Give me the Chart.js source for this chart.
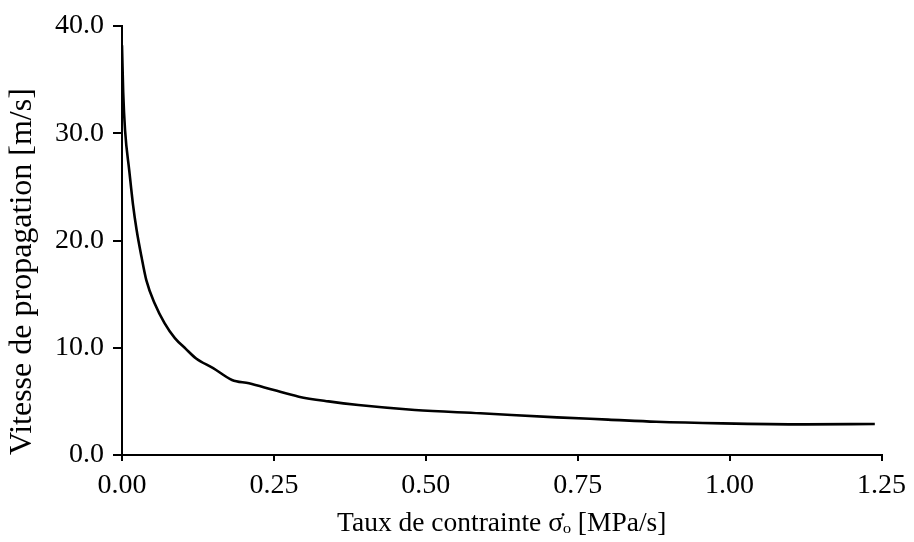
<!DOCTYPE html>
<html>
<head>
<meta charset="utf-8">
<script src="https://cdn.jsdelivr.net/npm/chart.js@4"></script>
<style>
  html, body { margin: 0; padding: 0; background: #fff; }
  #wrap { width: 914px; height: 542px; }
</style>
</head>
<body>
<div id="wrap"><canvas id="vitesseChart" width="914" height="542"></canvas></div>
<script>
// taux de contrainte (MPa/s) et vitesse de propagation (m/s)
const tauxContrainte = [0.000, 0.002, 0.005, 0.012, 0.018, 0.024, 0.032, 0.040, 0.054, 0.070, 0.087,
  0.105, 0.122, 0.150, 0.181, 0.209, 0.250, 0.291, 0.340, 0.389, 0.482, 0.590, 0.716, 0.800, 0.879, 0.988, 1.124, 1.239];
const vitesse = [38.2, 33.8, 30.3, 26.5, 23.4, 21.0, 18.5, 16.3, 14.1, 12.3, 10.9,
  9.9, 9.0, 8.1, 7.0, 6.69, 6.05, 5.44, 5.0, 4.66, 4.2, 3.89, 3.51, 3.3, 3.1, 2.95, 2.86, 2.89];

const xTicks = [0, 0.25, 0.5, 0.75, 1.0, 1.25];
const yTicks = [0, 10, 20, 30, 40];

const points = tauxContrainte.map((x, i) => ({ x: x, y: vitesse[i] }));

const serif = 'Liberation Serif';

new Chart(document.getElementById('vitesseChart'), {
  type: 'line',
  data: {
    datasets: [{
      data: points,
      borderColor: '#000',
      borderWidth: 2.6,
      pointRadius: 0,
      cubicInterpolationMode: 'monotone',
      fill: false,
    }]
  },
  options: {
    responsive: false,
    animation: false,
    layout: { padding: { top: 26, right: 27, bottom: 0, left: 0 } },
    plugins: { legend: { display: false }, tooltip: { enabled: false } },
    scales: {
      x: {
        type: 'linear',
        min: 0,
        max: 1.25,
        afterBuildTicks: (scale) => { scale.ticks = xTicks.map(v => ({ value: v })); },
        afterFit: (scale) => { scale.height = 87; },
        border: { display: true, color: '#000', width: 2 },
        grid: { drawOnChartArea: false, drawTicks: true, tickLength: 6, color: '#000', lineWidth: 2 },
        ticks: {
          color: '#000',
          padding: 8,
          maxRotation: 0,
          font: { family: serif, size: 28 },
          callback: (v) => Number(v).toFixed(2),
        },
        title: {
          display: true,
          text: 'Taux de contrainte σ̇ₒ [MPa/s]',
          color: '#000',
          font: { family: serif, size: 27.5 },
          padding: { top: 0, bottom: 2 },
        },
      },
      y: {
        min: 0,
        max: 40,
        afterBuildTicks: (scale) => { scale.ticks = yTicks.map(v => ({ value: v })); },
        afterFit: (scale) => { scale.width = 122; },
        border: { display: true, color: '#000', width: 2 },
        grid: { drawOnChartArea: false, drawTicks: true, tickLength: 9, color: '#000', lineWidth: 2 },
        ticks: {
          color: '#000',
          padding: 9,
          font: { family: serif, size: 28 },
          callback: (v) => Number(v).toFixed(1),
        },
        title: {
          display: true,
          text: 'Vitesse de propagation [m/s]',
          align: 'start',
          color: '#000',
          font: { family: serif, size: 32 },
          padding: { top: 3, bottom: 0 },
        },
      }
    }
  }
});
</script>
</body>
</html>
